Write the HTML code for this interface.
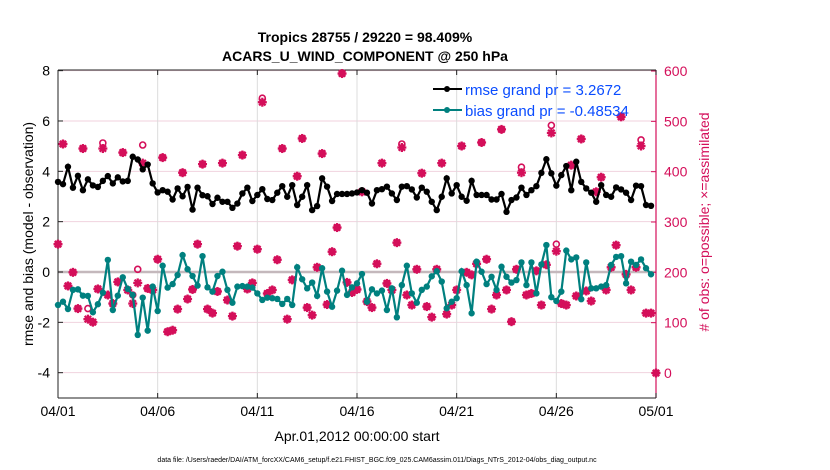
<!DOCTYPE html>
<html><head><meta charset="utf-8"><style>
body{margin:0;background:#fff;}
svg{display:block;font-family:"Liberation Sans",sans-serif;}
</style></head><body>
<svg id="chart" width="830" height="470" xmlns="http://www.w3.org/2000/svg">
<text x="365" y="42" text-anchor="middle" font-size="14" font-weight="bold">Tropics 28755 / 29220 = 98.409%</text>
<text x="365" y="61" text-anchor="middle" font-size="14" font-weight="bold">ACARS_U_WIND_COMPONENT @ 250 hPa</text>
<g id="grid"></g>
<g id="axes"></g>
<g id="obs"></g>
<g id="series"></g>
<g>
<line x1="433" y1="89" x2="462" y2="89" stroke="#000" stroke-width="2"/><circle cx="447" cy="89" r="3" fill="#000"/>
<text x="465" y="95" font-size="15" fill="#0a4cff">rmse grand pr = 3.2672</text>
<line x1="433" y1="110" x2="462" y2="110" stroke="#00807f" stroke-width="2"/><circle cx="447" cy="110" r="3" fill="#00807f"/>
<text x="465" y="116" font-size="15" fill="#0a4cff">bias grand pr = -0.48534</text>
</g>
<text x="357" y="441" text-anchor="middle" font-size="14">Apr.01,2012 00:00:00 start</text>
<text transform="translate(33,234) rotate(-90)" text-anchor="middle" font-size="14">rmse and bias (model - observation)</text>
<text transform="translate(709,222) rotate(-90)" text-anchor="middle" font-size="14" fill="#d40f5a"># of obs: o=possible; ×=assimilated</text>
<text x="377" y="462" text-anchor="middle" font-size="7">data file: /Users/raeder/DAI/ATM_forcXX/CAM6_setup/f.e21.FHIST_BGC.f09_025.CAM6assim.011/Diags_NTrS_2012-04/obs_diag_output.nc</text>
</svg>
<script>
const xTickLabels=["04/01","04/06","04/11","04/16","04/21","04/26","05/01"];
const leftTicks=[-4,-2,0,2,4,6,8];
const rightTicks=[0,100,200,300,400,500,600];
const rmse=[3.58,3.49,4.18,3.35,3.82,3.25,3.68,3.44,3.38,3.62,3.81,3.52,3.76,3.6,3.62,4.58,4.47,4.08,4.27,3.52,3.16,3.25,3.19,2.88,3.32,3.01,3.38,2.48,3.35,3.05,3.01,2.70,2.95,2.79,2.79,2.55,
2.72,3.12,3.35,2.82,3.06,3.29,2.90,2.86,3.15,3.41,2.99,3.45,2.66,2.99,3.45,2.46,2.62,3.72,3.39,2.82,3.10,3.10,3.10,3.12,3.16,3.25,3.15,2.72,3.25,3.29,3.39,3.12,2.86,3.39,
3.41,3.28,2.96,3.35,3.19,2.79,2.46,2.99,3.72,3.12,3.45,2.99,2.83,3.62,3.06,3.06,3.06,2.88,2.88,3.10,2.39,2.86,2.96,3.35,3.06,3.25,3.41,3.94,4.48,3.92,3.43,3.85,4.21,3.25,
4.38,3.58,3.32,3.15,2.79,3.45,3.06,2.99,3.36,3.28,3.15,2.86,3.43,3.41,2.66,2.63];
const bias=[-1.31,-1.18,-1.47,-0.71,-0.69,-0.94,-0.95,-1.60,-1.28,-0.82,0.48,-1.51,-0.94,-0.21,-0.67,-0.91,-2.5,-1.02,-2.33,-0.58,-1.55,0.25,-0.62,-0.48,-0.12,0.67,0.11,-0.16,-0.54,0.63,-0.61,-0.78,-0.16,0.01,-0.71,-1.22,
-0.58,-0.56,-0.58,-0.62,-0.85,-1.11,-1.02,-1.04,-1.07,-1.27,-1.07,-1.31,0.19,-0.29,-0.65,-0.42,-0.95,0.15,-0.78,-1.38,-0.74,0.05,-0.91,-0.61,-0.45,-0.08,-1.18,-0.69,-0.85,-0.74,-1.51,-0.65,-1.80,-0.52,
0.25,-0.85,-1.22,-0.71,-0.58,-0.17,0.03,-0.38,-1.44,-1.18,-1.04,0.03,-0.52,-1.64,0.41,0.01,-0.48,-0.19,-0.71,0.21,-0.19,-0.42,-0.32,0.38,-0.52,0.38,-0.85,0.30,1.07,-1.00,-1.15,-0.78,0.85,0.50,
0.58,-1.08,0.38,-0.65,-0.65,-0.58,-0.52,0.28,0.60,0.63,-0.45,0.41,0.28,0.50,0.15,-0.09];
const obsAssim=[256,455,173,200,128,446,107,101,167,446,155,138,181,438,165,138,179,417,168,165,226,428,82,85,127,398,147,166,256,415,127,119,162,417,145,113,
252,433,167,179,246,538,158,165,225,446,107,185,391,466,130,115,210,436,136,241,289,595,180,160,166,360,142,130,217,417,178,165,259,448,
155,135,206,397,132,111,206,417,117,135,165,451,200,195,217,458,226,127,155,484,165,102,206,398,155,158,203,135,215,477,242,138,135,413,
153,465,163,143,360,389,165,210,254,509,196,165,210,451,119,119,0];
const obsPoss=[256,455,173,200,128,446,128,101,167,457,155,138,181,438,165,155,206,453,168,165,226,428,82,85,127,398,147,166,256,415,127,119,162,417,145,113,
252,433,167,179,246,546,158,165,225,446,107,185,391,466,130,115,210,436,136,241,289,595,180,160,166,360,142,130,217,417,178,165,259,455,
155,135,206,397,132,111,206,417,117,135,165,451,200,195,217,458,226,127,155,484,165,102,206,409,155,158,203,135,215,492,256,138,135,413,
153,465,163,143,360,389,165,210,254,509,196,165,210,463,119,119,0];

const NS="http://www.w3.org/2000/svg";
const X0=58,X1=656,YT=70,YB=398;
const xs=i=>X0+(i/4)*(X1-X0)/30;
const xd=d=>X0+d*(X1-X0)/30;
const yl=v=>272-v*25.17;
const yr=c=>373-c*0.5033;
const PINK="#d40f5a",TEAL="#00807f";
function el(tag,attrs,parent){const e=document.createElementNS(NS,tag);for(const k in attrs)e.setAttribute(k,attrs[k]);parent.appendChild(e);return e;}
const grid=document.getElementById('grid'),axes=document.getElementById('axes'),obs=document.getElementById('obs'),ser=document.getElementById('series');
leftTicks.forEach(v=>{const g=el('line',{x1:X0,x2:X1,y1:yl(v),y2:yl(v),stroke:'#f0d2de','stroke-width':1},grid);

});
xTickLabels.forEach((t,k)=>{if(k>0&&k<xTickLabels.length-1){const g=el('line',{x1:xd(k*5),x2:xd(k*5),y1:YT,y2:YB,stroke:'#dcdcdc','stroke-width':1},grid);

}});
const z=el('line',{x1:X0,x2:X1,y1:yl(0),y2:yl(0),stroke:'#c4b8bc','stroke-width':2.5},grid);


el('line',{x1:X0,x2:X0,y1:YT,y2:YB,stroke:'#222','stroke-width':1},axes);
el('line',{x1:X0,x2:X1,y1:YT,y2:YT,stroke:'#222','stroke-width':1},axes);
el('line',{x1:X0,x2:X1,y1:YB,y2:YB,stroke:'#222','stroke-width':1},axes);
el('line',{x1:X1,x2:X1,y1:YT,y2:YB,stroke:PINK,'stroke-width':1.2},axes);
leftTicks.forEach(v=>{el('line',{x1:X0,x2:X0+5,y1:yl(v),y2:yl(v),stroke:'#222'},axes);
const t=el('text',{x:X0-8,y:yl(v)+5,'text-anchor':'end','font-size':14},axes);t.textContent=v;

});
rightTicks.forEach(c=>{el('line',{x1:X1-5,x2:X1,y1:yr(c),y2:yr(c),stroke:PINK},axes);
const t=el('text',{x:X1+8,y:yr(c)+5,'font-size':14,fill:PINK},axes);t.textContent=c;

});
xTickLabels.forEach((s,k)=>{const x=xd(k*5);el('line',{x1:x,x2:x,y1:YB,y2:YB-5,stroke:'#222'},axes);el('line',{x1:x,x2:x,y1:YT,y2:YT+5,stroke:'#222'},axes);
const t=el('text',{x:x,y:YB+18,'text-anchor':'middle','font-size':14},axes);t.textContent=s;

});
obsAssim.forEach((c,i)=>{const x=xs(i);
const p=el('circle',{cx:x,cy:yr(obsPoss[i]),r:3,fill:'none',stroke:PINK,'stroke-width':1.6},obs);


const y=yr(c);const g=el('g',{stroke:PINK,'stroke-width':2.3},obs);


el('line',{x1:x-4.5,x2:x+4.5,y1:y,y2:y},g);el('line',{x1:x,x2:x,y1:y-4.5,y2:y+4.5},g);
el('line',{x1:x-3.2,x2:x+3.2,y1:y-3.2,y2:y+3.2},g);el('line',{x1:x-3.2,x2:x+3.2,y1:y+3.2,y2:y-3.2},g);});
function drawSeries(vals,color,name){
const pts=vals.map((v,i)=>xs(i)+','+yl(v)).join(' ');
const pl=el('polyline',{points:pts,fill:'none',stroke:color,'stroke-width':2.2},ser);


vals.forEach((v,i)=>{const c=el('circle',{cx:xs(i),cy:yl(v),r:3.2,fill:color},ser);

});}
drawSeries(rmse,'#000','rmse');
drawSeries(bias,TEAL,'bias');
</script>
</body></html>
